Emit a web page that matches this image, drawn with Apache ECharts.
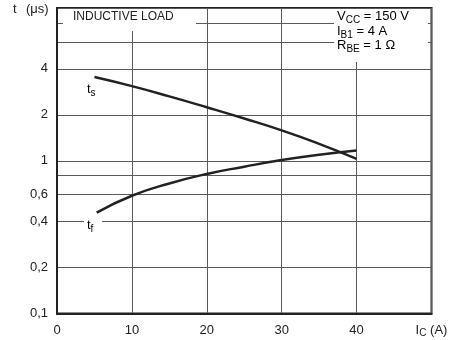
<!DOCTYPE html>
<html><head><meta charset="utf-8">
<script src="https://cdn.jsdelivr.net/npm/echarts@6/dist/echarts.min.js"></script>
<style>html,body{margin:0;padding:0;background:#fff}#c{width:455px;height:340px}</style>
</head><body><div id="c"></div>
<script>
// Collector current I_C (A)
const icTs = [5, 10, 15, 20, 25, 30, 35, 40];
const icTf = [5.3, 10, 15, 20, 25, 30, 35, 40];
// storage time t_s (µs)
const tsValues = [3.53, 3.08, 2.64, 2.24, 1.89, 1.58, 1.29, 1.03];
// fall time t_f (µs)
const tfValues = [0.458, 0.59, 0.71, 0.82, 0.914, 1.01, 1.095, 1.165];
// axis ticks
const xTickLabels = [0, 10, 20, 30, 40];
const yGridValues = [0.1, 0.2, 0.4, 0.6, 0.8, 1, 2, 4, 6, 8, 10];
const yLabelValues = [0.1, 0.2, 0.4, 0.6, 1, 2, 4];

const FONT = '"Liberation Sans", Arial, sans-serif';
const INK = '#222';
const GRID = '#5a5a5a';

const sub = {fontSize: 10, fontFamily: FONT, color: INK, verticalAlign: 'bottom'};
const main = {fontSize: 13, fontFamily: FONT, color: INK, lineHeight: 17};

const chart = echarts.init(document.getElementById('c'), null, {renderer: 'canvas'});
chart.setOption({
  backgroundColor: '#fff',
  animation: false,
  grid: {left: 57, right: 23.5, top: 8, bottom: 26.5, show: true, borderColor: '#222', borderWidth: 2, backgroundColor: 'transparent'},
  xAxis: {
    type: 'value', min: 0, max: 50, interval: 10,
    axisLine: {show: true, lineStyle: {color: '#222', width: 2}},
    axisTick: {show: false},
    splitLine: {show: true, lineStyle: {color: GRID, width: 1}},
    axisLabel: {
      margin: 8, color: INK, fontSize: 13, fontFamily: FONT, showMaxLabel: true,
      formatter: function (v) {
        if (v === 50) return '{m|I}{s|C}{m| (A)}';
        return xTickLabels.indexOf(v) >= 0 ? '{m|' + v + '}' : '';
      },
      rich: {m: main, s: sub}
    }
  },
  yAxis: {
    type: 'log', logBase: 10, min: 0.1, max: 10,
    axisLine: {show: true, lineStyle: {color: '#222', width: 2}},
    axisTick: {show: false, customValues: yGridValues},
    splitLine: {show: true, lineStyle: {color: GRID, width: 1}},
    axisLabel: {
      customValues: yLabelValues, margin: 9, color: INK, fontSize: 13, fontFamily: FONT,
      formatter: function (v) { return String(v).replace('.', ','); }
    }
  },
  series: [
    {type: 'line', name: 'ts', data: icTs.map((x, i) => [x, tsValues[i]]), smooth: 0.5, symbol: 'none',
     lineStyle: {color: '#222', width: 2.5}, z: 5},
    {type: 'line', name: 'tf', data: icTf.map((x, i) => [x, tfValues[i]]), smooth: 0.5, symbol: 'none',
     lineStyle: {color: '#222', width: 2.5}, z: 5}
  ],
  graphic: [
    {type: 'text', left: 13, top: 3, z: 20, style: {text: 't', font: '13px ' + FONT, fill: INK}},
    {type: 'text', left: 26, top: 3, z: 20, style: {text: '(μs)', font: '13px ' + FONT, fill: INK}},
    {type: 'rect', z: 10, shape: {x: 63, y: 9, width: 133, height: 22}, style: {fill: '#fff'}},
    {type: 'text', left: 73, top: 11, z: 20, style: {text: 'INDUCTIVE LOAD', font: '12px ' + FONT, fill: INK}},
    {type: 'rect', z: 10, shape: {x: 334, y: 9, width: 94, height: 53}, style: {fill: '#fff'}},
    {type: 'text', left: 337, top: 10, z: 20, style: {text: '{m|V}{s|CC}{m| = 150 V}', rich: {m: main, s: sub}}},
    {type: 'text', left: 337, top: 25, z: 20, style: {text: '{m|I}{s|B1}{m| = 4 A}', rich: {m: main, s: sub}}},
    {type: 'text', left: 337, top: 39, z: 20, style: {text: '{m|R}{s|BE}{m| = 1 Ω}', rich: {m: main, s: sub}}},
    {type: 'text', left: 87, top: 83, z: 20, style: {text: '{m|t}{s|s}', rich: {m: main, s: sub}}},
    {type: 'rect', z: 10, shape: {x: 84, y: 219, width: 18, height: 16}, style: {fill: '#fff'}},
    {type: 'text', left: 87, top: 219, z: 20, style: {text: '{m|t}{s|f}', rich: {m: main, s: sub}}}
  ]
});
</script>
</body></html>
